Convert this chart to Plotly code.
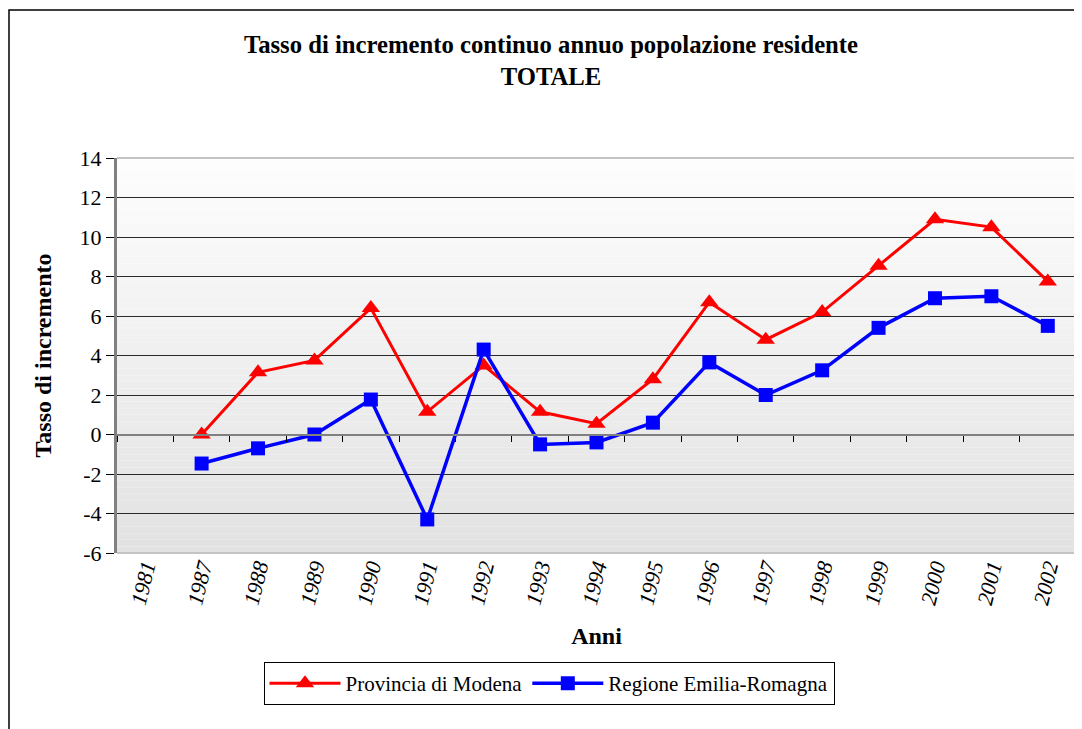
import plotly.graph_objects as go

anni = ["1981", "1987", "1988", "1989", "1990", "1991", "1992", "1993", "1994",
        "1995", "1996", "1997", "1998", "1999", "2000", "2001", "2002"]
modena = [None, 0.0, 3.15, 3.75, 6.4, 1.15, 3.5, 1.15, 0.55, 2.8, 6.7, 4.8, 6.2,
          8.55, 10.9, 10.5, 7.75]
emilia = [None, -1.47, -0.7, 0.0, 1.77, -4.3, 4.3, -0.5, -0.4, 0.6, 3.65, 2.0,
          3.25, 5.4, 6.9, 7.0, 5.5]
y_ticks = [-6, -4, -2, 0, 2, 4, 6, 8, 10, 12, 14]
y_tick_text = ["-6", "-4", "-2", "0", "2", "4", "6", "8", "10", "12", "14"]
y_min, y_max = -6, 14

FONT = "Liberation Serif"
OFF = 8  # page offset of the figure inside the browser window
W, H = 1082, 729
L, T = 117 - OFF, 158 - OFF
PW, PH = 959, 395
R = W - L - PW
B = H - T - PH

fig = go.Figure()

# gradient background bands
n_bands = 60
for i in range(n_bands):
    f = i / (n_bands - 1)
    g = int(round(253 - (253 - 226) * (1 - f)))
    fig.add_shape(type="rect", xref="x domain", yref="y domain",
                  x0=0, x1=1, y0=i / n_bands, y1=(i + 1) / n_bands,
                  fillcolor=f"rgb({g},{g},{g})", line=dict(width=0), layer="below")

fig.add_trace(go.Scatter(
    x=anni, y=modena, name="Provincia di Modena", mode="lines+markers",
    line=dict(color="#ff0000", width=3),
    marker=dict(symbol="triangle-up", size=16, color="#ff0000"),
    connectgaps=False))
fig.add_trace(go.Scatter(
    x=anni, y=emilia, name="Regione Emilia-Romagna", mode="lines+markers",
    line=dict(color="#0000ff", width=3.5),
    marker=dict(symbol="square", size=14, color="#0000ff"),
    connectgaps=False))
# helper trace so the zero-line category axis is drawn
fig.add_trace(go.Scatter(x=anni, y=[0] * len(anni), xaxis="x2", mode="lines",
                         line=dict(width=0), showlegend=False, hoverinfo="skip"))

zero_pos = (0 - y_min) / (y_max - y_min)

fig.update_layout(
    width=W, height=H,
    margin=dict(l=L, r=R, t=T, b=B, autoexpand=False),
    paper_bgcolor="white",
    plot_bgcolor="rgba(0,0,0,0)",
    font=dict(family=FONT, color="black"),
    title=dict(text="<b>Tasso di incremento continuo annuo popolazione residente<br>TOTALE</b>",
               x=(551 - OFF) / W, xref="container", xanchor="center",
               y=1 - 45 / H, yref="container", yanchor="top",
               font=dict(family=FONT, size=24.7)),
    xaxis=dict(type="category", categoryorder="array", categoryarray=anni,
               showgrid=False, ticks="", showline=False, zeroline=False,
               automargin=False,
               tickangle=-76, tickfont=dict(family=FONT, size=22, style="italic"),
               ticklabelstandoff=-4,
               title=dict(text="<b>Anni</b>", font=dict(family=FONT, size=24), standoff=20),
               range=[-0.5, len(anni) - 0.5]),
    xaxis2=dict(type="category", categoryorder="array", categoryarray=anni,
                overlaying="x", anchor="free", position=zero_pos,
                range=[-0.5, len(anni) - 0.5], automargin=False,
                showgrid=False, showticklabels=False, ticks="outside",
                tickson="boundaries", ticklen=6, tickcolor="black", tickwidth=1,
                showline=True, linecolor="#808080", linewidth=2, zeroline=False),
    yaxis=dict(range=[y_min, y_max], tickvals=y_ticks, ticktext=y_tick_text,
               showgrid=True, automargin=False,
               gridcolor="#2a2a2a", gridwidth=1, zeroline=False,
               showline=True, linecolor="#808080", linewidth=3,
               ticks="outside", ticklen=8, tickcolor="black",
               tickfont=dict(family=FONT, size=22),
               title=dict(text="<b>Tasso di incremento</b>",
                          font=dict(family=FONT, size=24), standoff=22)),
    legend=dict(orientation="h", x=(549 - OFF - L) / PW, xanchor="center",
                y=(PH + T - (662 - OFF)) / PH, yanchor="top",
                bordercolor="black", borderwidth=1, bgcolor="white",
                font=dict(family=FONT, size=21), itemwidth=71),
    showlegend=True,
)

# plot-area top/right/bottom border (light gray) and outer chart frame
fig.add_shape(type="line", xref="x domain", yref="y domain", x0=0, x1=1, y0=1, y1=1,
              line=dict(color="#c4c4c4", width=2))
fig.add_shape(type="line", xref="x domain", yref="y domain", x0=1, x1=1, y0=0, y1=1,
              line=dict(color="#c4c4c4", width=2))
fig.add_shape(type="line", xref="x domain", yref="y domain", x0=0, x1=1, y0=0, y1=0,
              line=dict(color="#c4c4c4", width=2))
fig.add_shape(type="rect", xref="paper", yref="paper",
              x0=(1 - L) / PW, x1=(W + 10 - L) / PW,
              y0=(T + PH - (H + 10)) / PH, y1=(T + PH - (10 - OFF)) / PH,
              line=dict(color="black", width=1.5), fillcolor="rgba(0,0,0,0)", layer="below")

fig.write_html("out.html")
